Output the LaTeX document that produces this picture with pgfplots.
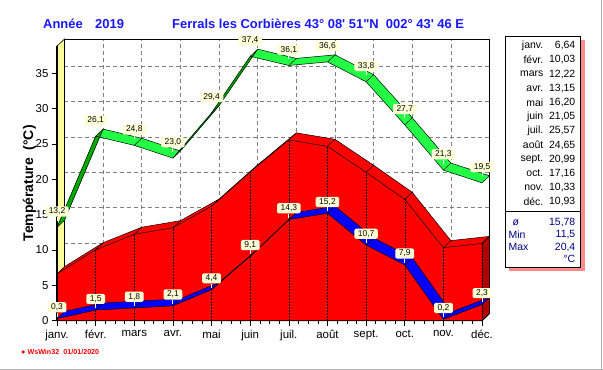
\documentclass[border=0pt]{standalone}
\usepackage{pgfplots}
\pgfplotsset{compat=1.18}
\usepackage{pgfplotstable}
\usepackage{fontspec}
\setmainfont{Liberation Sans}
\newcommand\fs[1]{\fontsize{#1}{#1}\selectfont}
\definecolor{bgreen}{HTML}{22FF44}
\definecolor{dgreen}{HTML}{00A800}
\definecolor{lblfill}{HTML}{FFFFD8}
\definecolor{wallyel}{HTML}{FFFF99}
\definecolor{navyc}{HTML}{000080}
\definecolor{capred}{HTML}{B00000}
\definecolor{titblue}{HTML}{1818FF}
\definecolor{gridc}{HTML}{808080}

% s=0: front line, s=1: back line (reversed) of the 3D ribbon
\pgfplotstableread{
x y s
0 6.64 0
1 10.03 0
2 12.22 0
3 13.15 0
4 16.20 0
5 21.05 0
6 25.57 0
7 24.65 0
8 20.99 0
9 17.16 0
10 10.33 0
11 10.93 0
11 10.93 1
10 10.33 1
9 17.16 1
8 20.99 1
7 24.65 1
6 25.57 1
5 21.05 1
4 16.20 1
3 13.15 1
2 12.22 1
1 10.03 1
0 6.64 1
}\meanT

\pgfplotstableread{
x y s
0 0.3 0
1 1.5 0
2 1.8 0
3 2.1 0
4 4.4 0
5 9.1 0
6 14.3 0
7 15.2 0
8 10.7 0
9 7.9 0
10 0.2 0
11 2.3 0
11 2.3 1
10 0.2 1
9 7.9 1
8 10.7 1
7 15.2 1
6 14.3 1
5 9.1 1
4 4.4 1
3 2.1 1
2 1.8 1
1 1.5 1
0 0.3 1
}\minT

\pgfplotstableread{
x y s
0 13.2 0
1 26.1 0
2 24.8 0
3 23.0 0
4 29.4 0
5 37.4 0
6 36.1 0
7 36.6 0
8 33.8 0
9 27.7 0
10 21.3 0
11 19.5 0
11 19.5 1
10 21.3 1
9 27.7 1
8 33.8 1
7 36.6 1
6 36.1 1
5 37.4 1
4 29.4 1
3 23.0 1
2 24.8 1
1 26.1 1
0 13.2 1
}\maxT

\pgfplotstableread{
x y s
0 13.2 0
1 26.1 0
1 26.1 1
0 13.2 1
}\maxDA

\pgfplotstableread{
x y s
3 23.0 0
4 29.4 0
5 37.4 0
5 37.4 1
4 29.4 1
3 23.0 1
}\maxDB

\pgfplotsset{
  table/band/.style={x expr=\thisrow{x}+0.194*\thisrow{s}, y expr=\thisrow{y}+\thisrow{s}},
  front/.style={restrict expr to domain={\thisrow{s}}{0:0}},
  back/.style={restrict expr to domain={\thisrow{s}}{1:1}},
  conn/.style={black, line width=0.45bp, quiver={u=0.194, v=1}, front},
  lbl/.style={draw=none, front, point meta=y,
    nodes near coords={\pgfmathprintnumber[fixed,fixed zerofill,precision=1,use comma]{\pgfplotspointmeta}},
    every node near coord/.style={anchor=south, yshift=#1, fill=lblfill, rounded corners=1.5bp,
      inner xsep=3.5bp, inner ysep=1.6bp, text=black, font=\fs{8.5},
      append after command={(\tikzlastnode.south) edge[draw=white, line width=0.9bp] ++(0,-4bp)}}},
}

\begin{document}
\begin{tikzpicture}
\path[use as bounding box] (0,0) rectangle (603bp,370bp);
\fill[white] (0,0) rectangle (603bp,370bp);

\begin{scope}[shift={(0,370bp)}, x=1bp, y=-1bp]
  % window frame lines
  \draw[gray!60, line width=1.2bp] (601.6,0) -- (601.6,370);
  \draw[gray!60, line width=1.2bp] (0,369.2) -- (603,369.2);
  % titles
  \node[anchor=west, text=titblue, font=\bfseries\fs{13}, inner sep=0] at (43,24) {Année};
  \node[anchor=west, text=titblue, font=\bfseries\fs{13}, inner sep=0] at (95,24) {2019};
  \node[anchor=west, text=titblue, font=\bfseries\fs{13}, inner sep=0] at (172,24)
    {Ferrals les Corbières 43° 08\textquotesingle\ 51\textquotedbl N\ \ 002° 43\textquotesingle\ 46 E};
  % footer
  \node[anchor=west, text=red, font=\bfseries\fs{7.2}, inner sep=0] at (21,351.5) {● WsWin32\ \ 01/01/2020};
  % legend box
  \fill[red!45] (509,40) rectangle (584.5,271);
  \filldraw[fill=white, draw=black, line width=0.9bp] (505,36) rectangle (580,267);
  \draw[line width=0.9bp] (505,211) -- (580,211);
  \newcommand\legrow[3]{%
    \node[anchor=east, inner sep=0, font=\fs{10.5}] at (543.5,#1) {#2};
    \node[anchor=east, inner sep=0, font=\fs{10.5}] at (575.5,#1) {#3};}
  \legrow{45.7}{janv.}{6,64}
  \legrow{59.9}{févr.}{10,03}
  \legrow{74.1}{mars}{12,22}
  \legrow{88.3}{avr.}{13,15}
  \legrow{102.5}{mai}{16,20}
  \legrow{116.7}{juin}{21,05}
  \legrow{130.9}{juil.}{25,57}
  \legrow{145.1}{août}{24,65}
  \legrow{159.3}{sept.}{20,99}
  \legrow{173.5}{oct.}{17,16}
  \legrow{187.7}{nov.}{10,33}
  \legrow{201.9}{déc.}{10,93}
  \begin{scope}[every node/.style={inner sep=0, font=\fs{10.5}, text=navyc}]
    \node[anchor=west] at (512.5,222.7) {ø};
    \node[anchor=east] at (575.5,222.7) {15,78};
    \node[anchor=west] at (508.5,235) {Min};
    \node[anchor=east] at (575.5,235) {11,5};
    \node[anchor=west] at (508.5,247.3) {Max};
    \node[anchor=east] at (575.5,247.3) {20,4};
    \node[anchor=east] at (575.5,258.5) {°C};
  \end{scope}
\end{scope}

\begin{axis}[
  at={(57bp,49.3bp)}, anchor=origin,
  x=38.64bp, y=7.07bp,
  xmin=0, xmax=11, ymin=0, ymax=38.84,
  clip=false,
  axis lines*=left,
  axis line style={black, line width=0.8bp},
  xtick={0,...,11},
  xticklabels={janv.,févr.,mars,avr.,mai,juin,juil.,août,sept.,oct.,nov.,déc.},
  ytick={0,5,...,35},
  minor x tick num=3,
  tick align=outside,
  major tick length=5bp, minor tick length=3.5bp,
  tick style={black, line width=0.6bp},
  ticklabel style={font=\fs{11.5}},
  xticklabel style={yshift=-1bp},
  /pgf/number format/assume math mode=true,
  ylabel={Température\ \ (°C)},
  ylabel style={font=\bfseries\fs{14}, yshift=-7bp},
]
% grid on the back wall
\pgfplotsinvokeforeach{5,10,15,20,25,30,35}{
  \draw[gridc, line width=0.75bp, dash pattern=on 4bp off 3bp] (0.194,{#1+1}) -- (11.194,{#1+1});
}
\pgfplotsinvokeforeach{1,...,10}{
  \draw[gridc, line width=0.75bp, dash pattern=on 4bp off 3bp] ({#1+0.194},1) -- ({#1+0.194},39.84);
}
% frame
\draw[black, line width=0.8bp] (0.194,39.84) -- (11.194,39.84) -- (11.194,1);
% left wall
\filldraw[fill=wallyel, draw=black, line width=0.6bp] (0,0) -- (0,38.84) -- (0.194,39.84) -- (0.194,1) -- cycle;

% ---- mean temperature (red area)
\addplot[fill=red, draw=none] table[band] {\meanT} -- cycle;
\addplot[fill=red, draw=none, front] table {\meanT} \closedcycle;
\addplot[fill=capred, draw=black, line width=0.5bp] coordinates {(11,0) (11,10.93) (11.194,11.93) (11.194,1)} -- cycle;
\addplot[black, line width=0.5bp, densely dotted, ycomb, front] table {\meanT};
\addplot[black, line width=0.5bp, front] table {\meanT};
\addplot[black, line width=0.5bp, back] table[band] {\meanT};
\addplot[conn] table {\meanT};

% ---- minimum (blue ribbon)
\addplot[fill=blue, draw=none] table[band] {\minT} -- cycle;
\addplot[black, line width=0.5bp, front] table {\minT};
\addplot[black, line width=0.5bp, back] table[band] {\minT};
\addplot[conn] table {\minT};

% ---- maximum (green ribbon)
\addplot[fill=bgreen, draw=none] table[band] {\maxT} -- cycle;
\addplot[fill=dgreen, draw=none] table[band] {\maxDA} -- cycle;
\addplot[fill=dgreen, draw=none] table[band] {\maxDB} -- cycle;
\addplot[black, line width=0.5bp, front] table {\maxT};
\addplot[black, line width=0.5bp, back] table[band] {\maxT};
\addplot[conn] table {\maxT};

% axis front edges
\draw[black, line width=2bp] (0,0) -- (0,38.84);
\draw[black, line width=0.8bp] (0,0) -- (11,0) -- (11.194,1);

% value labels
\addplot[lbl=6bp] table {\minT};
\addplot[lbl=10.5bp] table {\maxT};
\end{axis}
\end{tikzpicture}
\end{document}
